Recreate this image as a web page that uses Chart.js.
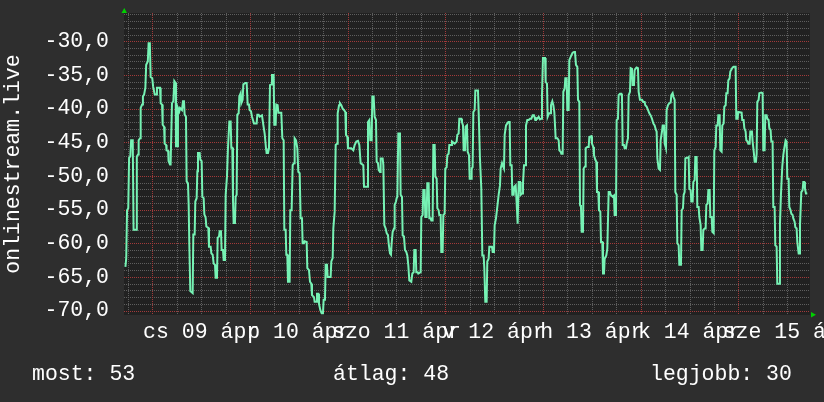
<!DOCTYPE html>
<html lang="hu">
<head>
<meta charset="UTF-8" />
<script src="https://cdn.jsdelivr.net/npm/chart.js@4.4.0/dist/chart.umd.min.js"></script>
<title>onlinestream.live</title>
<style>
  html, body { margin: 0; padding: 0; background: #2e2e2e; }
  #wrap { position: relative; width: 824px; height: 402px; overflow: hidden; }
  #chart { position: absolute; left: 0; top: 0; }
  .leg { position: absolute; top: 362px; font: 21.5px/24px "Liberation Mono", monospace; color: #fff; white-space: pre; }
</style>
</head>
<body>
<div id="wrap">
  <canvas id="chart" width="824" height="402"></canvas>
  <div class="leg" id="leg0" style="left:32px"></div>
  <div class="leg" id="leg1" style="left:333px"></div>
  <div class="leg" id="leg2" style="left:650px"></div>
</div>
<script>
// hours since 2020-04-09 00:00
const hours = [
  -6.6, -6.4, -6.2, -5.9, -5.7, -5.4, -5.2, -4.8,
  -4.6, -4.0, -3.8, -3.5, -3.35, -3.0, -2.85, -2.5,
  -2.3, -2.0, -1.7, -1.5, -1.1, -0.9, -0.6, -0.4,
  0.0, 0.2, 0.6, 1.0, 1.15, 1.9, 2.06, 2.4,
  2.55, 2.9, 3.04, 3.4, 3.5, 3.9, 4.0, 4.35,
  4.5, 4.84, 5.17, 5.41, 5.74, 5.82, 6.15, 6.31,
  6.64, 6.81, 7.3, 7.54, 7.79, 7.95, 8.28, 8.44,
  8.77, 8.94, 9.1, 9.34, 9.92, 10.08, 10.41, 10.57,
  10.9, 11.07, 11.23, 11.64, 11.8, 12.13, 12.3, 12.62,
  12.79, 13.11, 13.28, 13.77, 13.93, 14.34, 14.51, 14.83,
  15.08, 15.41, 15.57, 15.9, 16.06, 16.39, 16.55, 16.88,
  17.04, 17.37, 17.54, 17.86, 18.03, 18.35, 18.6, 18.93,
  19.26, 19.42, 19.66, 19.83, 19.99, 20.32, 20.48, 20.73,
  20.89, 21.22, 21.38, 21.71, 21.87, 22.2, 22.37, 22.86,
  23.19, 23.43, 23.76, 23.92, 24.25, 24.5, 24.99, 25.64,
  25.81, 26.13, 26.38, 26.95, 27.28, 27.61, 27.94, 28.1,
  28.43, 28.67, 28.92, 29.25, 29.41, 29.82, 29.98, 30.31,
  30.47, 30.8, 30.97, 31.7, 31.95, 32.28, 32.44, 32.77,
  32.93, 33.17, 33.34, 33.75, 33.91, 34.24, 34.49, 34.82,
  34.98, 35.31, 35.64, 35.88, 36.21, 36.45, 36.78, 36.94,
  37.27, 37.44, 37.93, 38.09, 38.5, 38.75, 39.07, 39.24,
  39.73, 39.89, 40.3, 40.47, 40.79, 40.96, 41.28, 41.61,
  41.94, 42.1, 42.43, 42.6, 42.92, 43.09, 43.82, 43.99,
  44.32, 44.48, 44.81, 45.06, 45.39, 45.55, 45.88, 46.12,
  46.45, 46.77, 47.1, 47.43, 47.59, 47.92, 48.08, 48.9,
  49.39, 49.72, 50.13, 50.54, 50.87, 51.19, 51.85, 52.02,
  52.83, 53.0, 53.33, 53.57, 53.9, 54.06, 54.39, 54.63,
  54.96, 55.13, 55.45, 55.62, 55.95, 56.11, 56.6, 56.77,
  57.01, 57.34, 57.59, 57.91, 58.08, 58.4, 58.65, 58.81,
  59.06, 59.39, 59.55, 59.88, 60.04, 60.21, 60.45, 60.86,
  61.02, 61.35, 61.51, 61.84, 62.09, 62.41, 62.66, 62.91,
  63.15, 63.64, 63.89, 64.22, 64.38, 64.71, 64.87, 65.2,
  65.36, 65.94, 66.1, 66.43, 66.59, 66.92, 67.08, 67.41,
  67.57, 67.9, 68.07, 68.39, 68.56, 68.88, 69.05, 69.38,
  69.54, 69.87, 70.03, 70.36, 70.52, 70.85, 71.01, 71.34,
  71.51, 71.83, 71.99, 72.32, 72.49, 72.81, 72.98, 73.47,
  73.63, 74.29, 74.78, 74.94, 75.27, 75.43, 75.93, 76.09,
  76.34, 76.5, 76.83, 76.99, 77.32, 77.49, 77.81, 77.98,
  78.31, 78.47, 78.71, 78.88, 79.21, 79.37, 80.02, 80.19,
  80.51, 80.84, 81.09, 81.41, 81.58, 81.82, 82.15, 82.31,
  82.64, 82.81, 83.46, 83.63, 83.95, 84.12, 84.45, 84.77,
  85.1, 85.43, 85.59, 85.92, 86.08, 86.41, 86.58, 86.91,
  87.23, 87.48, 87.81, 87.97, 88.3, 88.46, 88.79, 88.95,
  89.28, 89.45, 89.77, 90.02, 90.35, 90.51, 90.84, 91.08,
  91.33, 91.65, 91.82, 92.14, 92.47, 92.81, 93.13, 93.45,
  93.79, 94.1, 94.27, 94.6, 94.93, 95.26, 95.59, 95.75,
  95.99, 96.49, 96.65, 96.98, 97.14, 97.47, 97.72, 97.96,
  98.29, 98.54, 98.78, 99.11, 99.52, 99.85, 100.01, 100.34,
  100.5, 100.83, 100.99, 101.32, 101.48, 101.81, 101.97, 102.3,
  102.46, 102.96, 103.28, 103.61, 103.86, 104.1, 104.43, 104.6,
  104.92, 105.09, 105.33, 105.5, 105.82, 105.99, 106.32, 106.48,
  106.89, 107.22, 107.38, 107.87, 108.03, 108.36, 108.52, 108.85,
  109.1, 109.26, 109.59, 109.75, 110.08, 110.25, 110.57, 110.74,
  110.98, 111.15, 111.55, 111.8, 112.13, 112.45, 112.62, 113.11,
  113.44, 113.6, 113.93, 114.09, 114.42, 114.58, 114.91, 115.24,
  115.4, 115.57, 115.89, 116.06, 116.38, 116.55, 116.88, 117.04,
  117.37, 117.53, 117.86, 118.02, 118.35, 118.51, 118.84, 119.0,
  119.33, 119.5, 119.82, 120.31, 120.64, 120.97, 121.13, 121.46,
  121.79, 122.12, 122.45, 122.78, 123.1, 123.43, 123.76, 123.92,
  124.09, 124.41, 124.74, 124.9, 125.23, 125.4, 125.72, 125.89,
  126.21, 126.38, 126.7, 127.03, 127.36, 127.53, 127.85, 128.02,
  128.35, 128.51, 128.84, 129.0, 129.33, 129.49, 129.9, 130.07,
  130.39, 130.56, 130.8, 130.97, 131.29, 131.62, 131.79, 131.95,
  132.28, 132.44, 132.77, 132.93, 133.26, 133.42, 133.75, 133.91,
  134.24, 134.41, 134.73, 134.9, 135.22, 135.39, 135.72, 135.96,
  136.13, 136.45, 136.62, 136.94, 137.11, 137.44, 137.6, 137.93,
  138.09, 138.42, 138.58, 138.91, 139.07, 139.4, 139.56, 139.89,
  140.05, 140.38, 140.55, 140.87, 141.04, 141.36, 141.53, 141.85,
  142.02, 142.59, 142.83, 143.33, 143.49, 143.82, 143.98, 144.8,
  144.96, 145.29, 145.46, 145.78, 145.95, 146.27, 146.44, 146.77,
  146.93, 147.34, 147.5, 147.83, 148.0, 148.32, 148.49, 148.65,
  148.98, 149.14, 149.63, 149.96, 150.12, 150.45, 150.61, 150.94,
  151.11, 151.43, 151.6, 151.92, 152.09, 152.41, 152.58, 152.91,
  153.07, 153.4, 153.56, 154.05, 154.22, 154.46, 154.79, 155.04,
  155.28, 155.61, 155.86, 156.02, 156.35, 156.51, 156.84, 157.01,
  157.33, 157.5, 157.82, 157.99, 158.31, 158.48, 158.81, 158.97,
  159.14, 159.46, 159.79, 159.95, 160.2, 160.36, 160.61, 160.94
];
const signal = [
  -63.5, -62.2, -55.1, -54.8, -47.3, -47.1, -44.7, -44.7,
  -58, -58, -47.1, -46.8, -44.7, -44.4, -39.9, -39.4,
  -38.2, -37.9, -36.9, -33.5, -33, -30.3, -30.3, -35.3,
  -35.5, -36.7, -37.9, -37.9, -36.9, -36.9, -39.2, -39.4,
  -42.4, -42.7, -45.2, -45.4, -46.2, -46.3, -47.8, -48.3,
  -48.3, -39.2, -38.9, -35.9, -36.2, -45.6, -45.6, -39.9,
  -40.4, -39.9, -40.2, -38.9, -38.9, -40.9, -41.2, -50.8,
  -51.1, -54.3, -60.2, -67.1, -67.4, -58.7, -58.7, -53.8,
  -53.3, -49.3, -46.6, -46.6, -47.6, -47.8, -53.1, -53.3,
  -55.7, -56.2, -57.5, -57.7, -60.5, -60.5, -61.5, -61.7,
  -63, -63.2, -65.1, -65.1, -59.2, -59, -58.2, -58.2,
  -61, -61, -62.5, -62.5, -52.8, -50.1, -45.8, -41.9,
  -41.9, -45.8, -45.8, -53.6, -57, -57, -53.1, -52.8,
  -40.9, -40.7, -38.2, -37.7, -39.2, -38.7, -36.4, -36.2,
  -36.2, -39.4, -39.4, -40.2, -40.4, -41.2, -42.2, -42.2,
  -40.9, -40.9, -41.2, -41, -42.4, -43.7, -45.9, -46.6,
  -46.6, -45.9, -36.5, -36.4, -35, -35, -42.4, -42.4,
  -39.4, -39.5, -40.6, -40.6, -44.4, -44.7, -58, -58,
  -61.7, -61.7, -65.7, -65.7, -55.1, -55.1, -48.4, -48.1,
  -44.4, -44.7, -45.9, -49.4, -49.6, -56.3, -56.3, -60,
  -60, -59.7, -59.8, -63.7, -64, -65.7, -66, -67.7,
  -68, -68.7, -68.7, -67.5, -67.5, -69, -69.9, -70.4,
  -70.4, -68.4, -68.4, -63.2, -63.2, -65, -65, -62.7,
  -62.2, -57.8, -55.3, -45.4, -45.2, -40.7, -39.5, -39.2,
  -39.5, -40, -40.2, -40.5, -43.9, -44.2, -45.9, -45.9,
  -46.2, -45.4, -44.9, -44.8, -45.4, -48.1, -48.4, -51.6,
  -51.6, -42, -41.7, -44.7, -44.7, -38.2, -38.2, -41.2,
  -41.7, -47.9, -48.1, -49.1, -49.4, -47.4, -47.4, -48.4,
  -57.3, -57.8, -58.5, -58.8, -60, -61.5, -61.7, -60,
  -58.3, -57.8, -54.3, -53.8, -53.3, -53.1, -43.7, -43.7,
  -52.8, -53.1, -58.8, -59, -61, -61.3, -61.8, -63.3,
  -65.5, -65.7, -64.5, -64.3, -61, -61, -64.3, -64.3,
  -64.5, -64.3, -56.1, -55.8, -52.1, -52.1, -56.1, -56.1,
  -51.1, -51.1, -56.3, -56.3, -56.6, -56.6, -45.4, -45.4,
  -50.1, -50.4, -54.8, -55.1, -55.8, -55.8, -61.3, -61.3,
  -55.8, -55.6, -48.9, -48.7, -46.9, -46.7, -45.4, -45.4,
  -44.9, -45.2, -44.9, -43.9, -43.7, -41.5, -41.5, -42,
  -42.5, -46.2, -46.2, -42.7, -42.5, -46.4, -46.9, -50.4,
  -50.4, -48.9, -48.7, -40.5, -40.2, -37.3, -37.3, -40.5,
  -47.4, -51.9, -61.8, -61.8, -63.7, -68.7, -68.7, -62.7,
  -62.3, -60.5, -60.5, -61.3, -61.3, -57.3, -56.3, -54.6,
  -52.8, -51.4, -48.9, -48.1, -48.4, -48.9, -43.9, -42.5,
  -42.2, -42, -42, -48.4, -48.4, -52.8, -52.8, -51.6,
  -51.4, -53.1, -57.1, -50.9, -50.9, -52.8, -52.6, -51.1,
  -48.4, -48.4, -42.5, -41.7, -41.7, -41.5, -41.5, -41,
  -41, -41.7, -41.4, -41.5, -41.2, -41.6, -41.5, -38,
  -32.5, -32.5, -36, -36.3, -41.2, -40.7, -40.7, -39.5,
  -38.9, -39.5, -40.5, -44.4, -44.4, -44.7, -46.2, -46.4,
  -46.7, -46.7, -37.5, -37, -35.5, -35.5, -40.2, -40.2,
  -32.8, -32.1, -31.7, -31.6, -31.6, -33.5, -33.8, -38.7,
  -39, -54.3, -54.6, -58.3, -58.3, -48.9, -48.6, -45.9,
  -45.7, -45.7, -44.2, -44.1, -45.2, -45.7, -46.9, -47.6,
  -47.9, -52.4, -52.4, -55.1, -55.3, -59.8, -59.8, -64.5,
  -64.5, -62.3, -61.8, -60.8, -52.4, -52.4, -52.8, -53.1,
  -52.9, -55.8, -55.8, -41.7, -41.5, -38, -37.8, -37.8,
  -38.2, -45.4, -45.4, -45.9, -45.9, -45.2, -44.4, -38,
  -37.5, -34, -34.1, -36.5, -36.5, -34.3, -34, -33.9,
  -34, -37.5, -38.7, -38.7, -39, -39, -39.5, -39.7,
  -40.2, -40.7, -41, -41.5, -42.2, -42.5, -43.2, -43.4,
  -47.4, -48.9, -49.1, -44.7, -43.4, -42.5, -42.5, -45.2,
  -45.9, -40.2, -39.5, -39.2, -39.1, -38, -37.7, -38.2,
  -38.7, -52.4, -52.8, -60, -60.3, -63.2, -63.2, -55.1,
  -54.8, -52.8, -52.4, -47.4, -47.3, -47.3, -47.2, -51.9,
  -52.1, -53.8, -53.8, -50.9, -50.6, -47.2, -47.2, -54.6,
  -54.6, -56.1, -57.3, -61, -61, -58, -57.8, -57.8,
  -54.3, -54.1, -52.1, -52.1, -56.1, -56.1, -58.3, -58.5,
  -46.2, -45.7, -42.5, -42.5, -41, -41, -46.2, -46.4,
  -42.5, -42.2, -39.7, -39.5, -37.7, -37.7, -35.8, -35.5,
  -34.5, -33.9, -33.8, -33.8, -41.5, -41.5, -40.5, -40.6,
  -41.7, -41.7, -42.9, -43.4, -44.7, -44.9, -45.2, -45.2,
  -43.4, -43.4, -44.9, -46.7, -47.9, -47.9, -46.7, -39,
  -38.7, -37.7, -37.6, -37.7, -46.2, -46.2, -41, -41,
  -41.5, -41.7, -42.9, -43.2, -44.9, -44.9, -54.6, -54.6,
  -60.3, -60.5, -66, -66, -57.1, -52.8, -48.6, -46.9,
  -45.9, -44.7, -44.9, -50.4, -50.4, -54.6, -55.1, -55.6,
  -55.8, -56.3, -56.8, -57.6, -57.8, -59.8, -61.5, -61.5,
  -57.3, -52.4, -52.1, -50.9, -50.9, -51.9, -52.6, -52.6
];

// noon label of each day (rrdtool style, hungarian)
const dayLabels = ['cs 09 ápr', 'p 10 ápr', 'szo 11 ápr', 'v 12 ápr', 'h 13 ápr', 'k 14 ápr', 'sze 15 ápr'];
const summaryNames = ['most', 'átlag', 'legjobb'];
const summaryValues = [53, 48, 30];

const FONT = '"Liberation Mono", monospace';
const GRID = '#5e5e5e';
const MAJOR = '#a23a3a';

summaryNames.forEach((n, i) => {
  document.getElementById('leg' + i).textContent = n + ': ' + summaryValues[i];
});

const isMajor = (axis, v) => (axis === 'x' ? v % 24 === 0 : v % 5 === 0);

// rrdtool look: two-tone canvas, dotted grid taken from the scale ticks, green axis arrows
const rrdFrame = {
  id: 'rrdFrame',
  beforeDraw(chart) {
    const { ctx, chartArea: a } = chart;
    ctx.save();
    ctx.fillStyle = '#2e2e2e';
    ctx.fillRect(0, 0, chart.width, chart.height);
    ctx.fillStyle = '#212121';
    ctx.fillRect(a.left, a.top, a.right - a.left, a.bottom - a.top);
    ctx.restore();
  },
  beforeDatasetsDraw(chart) {
    const { ctx, chartArea: a, scales } = chart;
    const l = Math.round(a.left), r = Math.round(a.right);
    const t = Math.round(a.top), b = Math.round(a.bottom);
    ctx.save();
    [false, true].forEach(pass => {
      ctx.fillStyle = pass ? MAJOR : GRID;
      scales.x.ticks.forEach(tk => {
        if (isMajor('x', tk.value) !== pass) return;
        const px = Math.round(scales.x.getPixelForValue(tk.value));
        for (let py = t; py < b; py += 2) ctx.fillRect(px, py, 1, 1);
      });
      scales.y.ticks.forEach(tk => {
        if (isMajor('y', tk.value) !== pass) return;
        const py = Math.round(scales.y.getPixelForValue(tk.value));
        for (let px = l; px < r; px += 2) ctx.fillRect(px, py, 1, 1);
      });
    });
    ctx.restore();
  },
  afterDraw(chart) {
    const { ctx, chartArea: a } = chart;
    ctx.save();
    ctx.fillStyle = '#00d000';
    ctx.beginPath();
    ctx.moveTo(a.left - 2.5, a.top);
    ctx.lineTo(a.left + 3, a.top);
    ctx.lineTo(a.left + 0.25, a.top - 5);
    ctx.fill();
    ctx.beginPath();
    ctx.moveTo(a.right + 1, a.bottom - 3);
    ctx.lineTo(a.right + 1, a.bottom + 2.5);
    ctx.lineTo(a.right + 6, a.bottom - 0.25);
    ctx.fill();
    ctx.restore();
  }
};

new Chart(document.getElementById('chart'), {
  type: 'line',
  data: {
    datasets: [{
      data: hours.map((h, i) => ({ x: h, y: signal[i] })),
      borderColor: '#76f2b4',
      borderWidth: 2,
      pointRadius: 0,
      tension: 0
    }]
  },
  options: {
    responsive: false,
    animation: false,
    events: [],
    layout: { padding: { left: 0, top: 13, right: 14, bottom: 47 } },
    plugins: { legend: { display: false }, tooltip: { enabled: false } },
    scales: {
      x: {
        type: 'linear',
        min: -6.95,
        max: 161.6,
        afterBuildTicks: s => {
          const t = [];
          for (let h = -6; h <= s.max; h += 6) t.push({ value: h });
          s.ticks = t;
        },
        afterFit: s => { s.height = 40; s.paddingLeft = 0; s.paddingRight = 0; },
        ticks: {
          autoSkip: false,
          maxRotation: 0,
          minRotation: 0,
          padding: 4,
          color: '#ffffff',
          font: { family: FONT, size: 21.5 },
          callback: v => ((v - 12) % 24 === 0 ? dayLabels[(v - 12) / 24] : '')
        },
        grid: { display: false, drawTicks: false },
        border: { display: false }
      },
      y: {
        type: 'linear',
        min: -70.65,
        max: -25.8,
        afterBuildTicks: s => {
          const t = [];
          for (let v = -70; v <= -26; v++) t.push({ value: v });
          s.ticks = t;
        },
        afterFit: s => { s.width = 124; s.paddingTop = 0; s.paddingBottom = 0; },
        title: {
          display: true,
          text: 'onlinestream.live',
          color: '#ffffff',
          padding: 0,
          font: { family: FONT, size: 21.5 }
        },
        ticks: {
          autoSkip: false,
          padding: 15,
          color: '#ffffff',
          font: { family: FONT, size: 21.5 },
          callback: v => (v % 5 === 0 ? v.toFixed(1).replace('.', ',') : '')
        },
        grid: { display: false, drawTicks: false },
        border: { display: false }
      }
    }
  },
  plugins: [rrdFrame]
});
</script>
</body>
</html>
